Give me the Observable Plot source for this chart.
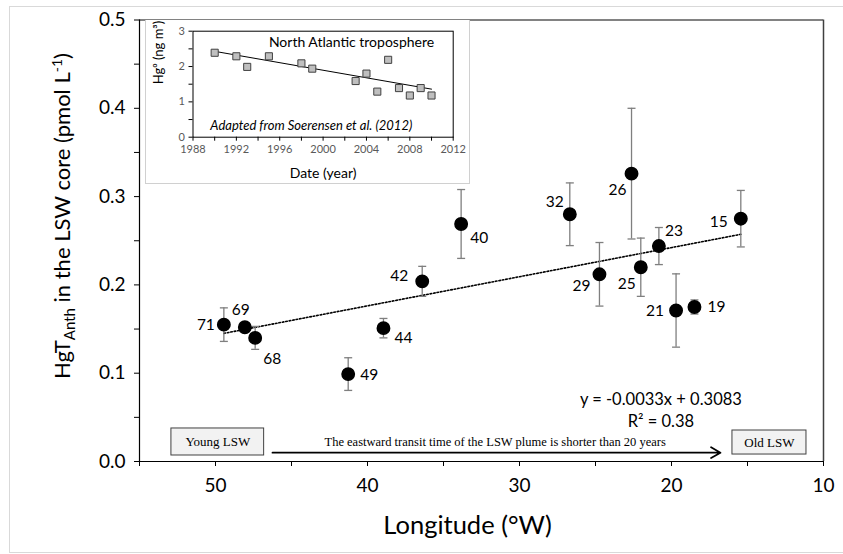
<!DOCTYPE html>
<html><head><meta charset="utf-8">
<script src="https://cdn.jsdelivr.net/npm/d3@7"></script>
<script src="https://cdn.jsdelivr.net/npm/@observablehq/plot@0.6"></script>
<style>
body{margin:0;background:#fff;}
#wrap{position:relative;width:843px;height:554px;overflow:hidden;font-family:Lato,"Open Sans",sans-serif;background:#fff;}
#main{position:absolute;left:0;top:0;}
#inset{position:absolute;left:145px;top:20px;width:325px;height:164px;box-sizing:border-box;background:#fff;border:1px solid #d0d0d0;border-top:none;}
#outer{position:absolute;left:9px;top:6px;width:845px;height:545px;border:1px solid #d9d9d9;pointer-events:none;}
</style></head><body><div id="wrap"><div id="main"></div><div id="inset"></div><div id="outer"></div></div>
<script>
// ---- main chart data ----
const stations   = [71, 69, 68, 49, 44, 42, 40, 32, 29, 26, 25, 23, 21, 19, 15];
const longitudes = [49.45, 48.07, 47.39, 41.27, 38.95, 36.4, 33.84, 26.69, 24.74, 22.63, 22.02, 20.83, 19.7, 18.49, 15.44];
const hgtAnth    = [0.155, 0.152, 0.140, 0.099, 0.151, 0.204, 0.269, 0.280, 0.212, 0.326, 0.220, 0.244, 0.171, 0.175, 0.275];
const errors     = [0.019, 0, 0.013, 0.0185, 0.011, 0.017, 0.039, 0.0355, 0.036, 0.074, 0.033, 0.021, 0.0415, 0.008, 0.032];
const trendLon   = [49.45, 15.44];
const trendVal   = [0.1451, 0.2573];
const equationLines = ["y = -0.0033x + 0.3083", "R² = 0.38"];
const xTicks = [55, 50, 45, 40, 35, 30, 25, 20, 15, 10];
const yTicks = [0, 0.05, 0.1, 0.15, 0.2, 0.25, 0.3, 0.35, 0.4, 0.45, 0.5];

// ---- inset data ----
const insetYears = [1990, 1992, 1993, 1995, 1998, 1999, 2003, 2004, 2005, 2006, 2007, 2008, 2009, 2010];
const insetHg    = [2.39, 2.29, 1.99, 2.29, 2.09, 1.94, 1.59, 1.80, 1.29, 2.19, 1.39, 1.18, 1.39, 1.18];
const insetTrendYears = [1990, 2010];
const insetTrendHg    = [2.43, 1.36];
const insetXTicks = [1988, 1990, 1992, 1994, 1996, 1998, 2000, 2002, 2004, 2006, 2008, 2010, 2012];
const insetYTicks = [0, 0.5, 1, 1.5, 2, 2.5, 3];

const FONT = "Lato, 'Open Sans', sans-serif";
const data = stations.map((s, i) => ({s, lon: longitudes[i], v: hgtAnth[i], e: errors[i]}));
const caps = data.filter(d => d.e > 0).flatMap(d => [{lon: d.lon, v: d.v - d.e}, {lon: d.lon, v: d.v + d.e}]);
const trend = trendLon.map((x, i) => ({x, y: trendVal[i]}));
const capSymbol = {draw(ctx, size) { const r = Math.sqrt(size / Math.PI); ctx.moveTo(-r, 0); ctx.lineTo(r, 0); }};

// label offsets (px) relative to each point
const off = {71:[-18,0],69:[-4,-17],68:[17,21],49:[21,1],44:[20,10],42:[-23,-5],40:[18,14],32:[-15,-12],
             29:[-18,12],26:[-14,16],25:[-14,17],23:[15,-15],21:[-21,1],19:[22,0],15:[-22,3]};
const labelMarks = data.map(d => Plot.text([d], {x: "lon", y: "v", text: d => String(d.s),
  dx: off[d.s][0], dy: off[d.s][1], fontSize: 15.5, fill: "#000"}));

const annoBoxes = [
  {label: "Young LSW", x1: 52.9, x2: 46.8, y1: 0.0068, y2: 0.0374, ty: 0.0226},
  {label: "Old LSW",   x1: 15.99, x2: 11.12, y1: 0.0079, y2: 0.0351, ty: 0.0215}
];
const annoArrow = [{x1: 46.25, x2: 16.78, y: 0.01}];
const annoText = ["The eastward transit time of the LSW plume is shorter than 20 years"];

const main = Plot.plot({
  width: 843, height: 554,
  marginLeft: 139, marginRight: 20, marginTop: 19.5, marginBottom: 93,
  style: {fontFamily: FONT, background: "transparent", color: "#000"},
  x: {domain: [10, 55], reverse: true},
  y: {domain: [0, 0.5]},
  marks: [
    Plot.ruleY([0.5], {stroke: "#595959", strokeWidth: 1.5}),
    Plot.ruleX([10], {stroke: "#404040", strokeWidth: 1.5}),
    Plot.axisX({ticks: xTicks, tickFormat: d => d % 10 === 0 ? String(d) : "", tickSize: 5, tickPadding: 12, fontSize: 19, label: null}),
    Plot.axisY({ticks: yTicks, tickFormat: d => Math.round(d * 20) % 2 === 0 ? d.toFixed(1) : "", tickSize: 5, tickPadding: 9, fontSize: 19, label: null}),
    Plot.ruleX([55], {stroke: "#000", strokeWidth: 1.2}),
    Plot.ruleY([0], {stroke: "#000", strokeWidth: 1.2}),
    Plot.line(trend, {x: "x", y: "y", stroke: "#000", strokeWidth: 1.6, strokeDasharray: "1.6 1.9"}),
    Plot.ruleX(data.filter(d => d.e > 0), {x: "lon", y1: d => d.v - d.e, y2: d => d.v + d.e, stroke: "#7f7f7f", strokeWidth: 1.3}),
    Plot.dot(caps, {x: "lon", y: "v", symbol: capSymbol, r: 4, stroke: "#7f7f7f", strokeWidth: 1.3, fill: "none"}),
    Plot.dot(data, {x: "lon", y: "v", r: 6.2, fill: "#000", stroke: "#000"}),
    ...labelMarks,
    Plot.text(equationLines, {x: () => 20.7, y: (d, i) => [0.0645, 0.0396][i], text: d => d, lineAnchor: "bottom", fontSize: 16.5, fill: "#000"}),
    Plot.rect(annoBoxes, {x1: "x1", x2: "x2", y1: "y1", y2: "y2", fill: "#f2f2f2", stroke: "#404040", strokeWidth: 1}),
    Plot.text(annoBoxes, {x: d => (d.x1 + d.x2) / 2, y: "ty", text: "label", fontFamily: "'Liberation Serif', serif", fontSize: 13, fill: "#000"}),
    Plot.arrow(annoArrow, {x1: "x1", x2: "x2", y1: "y", y2: "y", stroke: "#000", strokeWidth: 1.8, headLength: 9}),
    Plot.text(annoText, {x: () => 31.6, y: () => 0.0181, text: d => d, lineAnchor: "bottom", fontFamily: "'Liberation Serif', serif", fontSize: 12.5, fill: "#000"}),
    Plot.text(["Longitude (°W)"], {frameAnchor: "bottom", text: d => d, dx: -14, dy: 72, lineAnchor: "bottom", fontSize: 25.5, fill: "#000"})
  ]
});
// y-axis title with subscript / superscript
const ms = d3.select(main);
const yt = ms.append("text").attr("transform", "translate(70,216) rotate(-90)")
  .attr("text-anchor", "middle").attr("font-family", FONT).attr("font-size", 22).attr("fill", "#000");
yt.append("tspan").text("HgT");
yt.append("tspan").attr("dy", 5).attr("font-size", 15).text("Anth");
yt.append("tspan").attr("dy", -5).text(" in the LSW core (pmol L");
yt.append("tspan").attr("dy", -8).attr("font-size", 14).text("-1");
yt.append("tspan").attr("dy", 8).text(")");
document.getElementById("main").appendChild(main);

// ---- inset ----
const inset = insetYears.map((yr, i) => ({yr, hg: insetHg[i]}));
const insetTrend = insetTrendYears.map((yr, i) => ({yr, hg: insetTrendHg[i]}));
const ins = Plot.plot({
  width: 323, height: 163,
  marginLeft: 46.5, marginRight: 16.3, marginTop: 10.7, marginBottom: 46.3,
  style: {fontFamily: FONT, background: "transparent", color: "#000"},
  x: {domain: [1988, 2012]},
  y: {domain: [0, 3]},
  marks: [
    Plot.frame({stroke: "#000", strokeWidth: 1}),
    Plot.axisX({ticks: insetXTicks, tickFormat: d => d % 4 === 0 ? String(d) : "", tickSize: 4, tickPadding: 4, fontSize: 11, fill: "#595959", label: null}),
    Plot.axisY({ticks: insetYTicks, tickFormat: d => Number.isInteger(d) ? String(d) : "", tickSize: 4, tickPadding: 4, fontSize: 11, fill: "#595959", label: null}),
    Plot.line(insetTrend, {x: "yr", y: "hg", stroke: "#000", strokeWidth: 1}),
    Plot.dot(inset, {x: "yr", y: "hg", symbol: "square", r: 4, fill: "#bfbfbf", stroke: "#404040", strokeWidth: 1}),
    Plot.text(["North Atlantic troposphere"], {x: () => 1995.0, y: () => 2.547, text: d => d, textAnchor: "start", lineAnchor: "bottom", fontSize: 14, fill: "#000"}),
    Plot.text(["Adapted from Soerensen et al. (2012)"], {x: () => 1989.6, y: () => 0.209, text: d => d, textAnchor: "start", lineAnchor: "bottom", fontSize: 13, fontStyle: "italic", fill: "#000"}),
    Plot.text(["Date (year)"], {frameAnchor: "bottom", text: d => d, dy: 41, lineAnchor: "bottom", fontSize: 14, fill: "#000"}),
    Plot.text(["Hg⁰ (ng m³)"], {frameAnchor: "left", text: d => d, dx: -34.5, rotate: -90, fontSize: 13, fill: "#000"})
  ]
});
document.getElementById("inset").appendChild(ins);
</script></body></html>
